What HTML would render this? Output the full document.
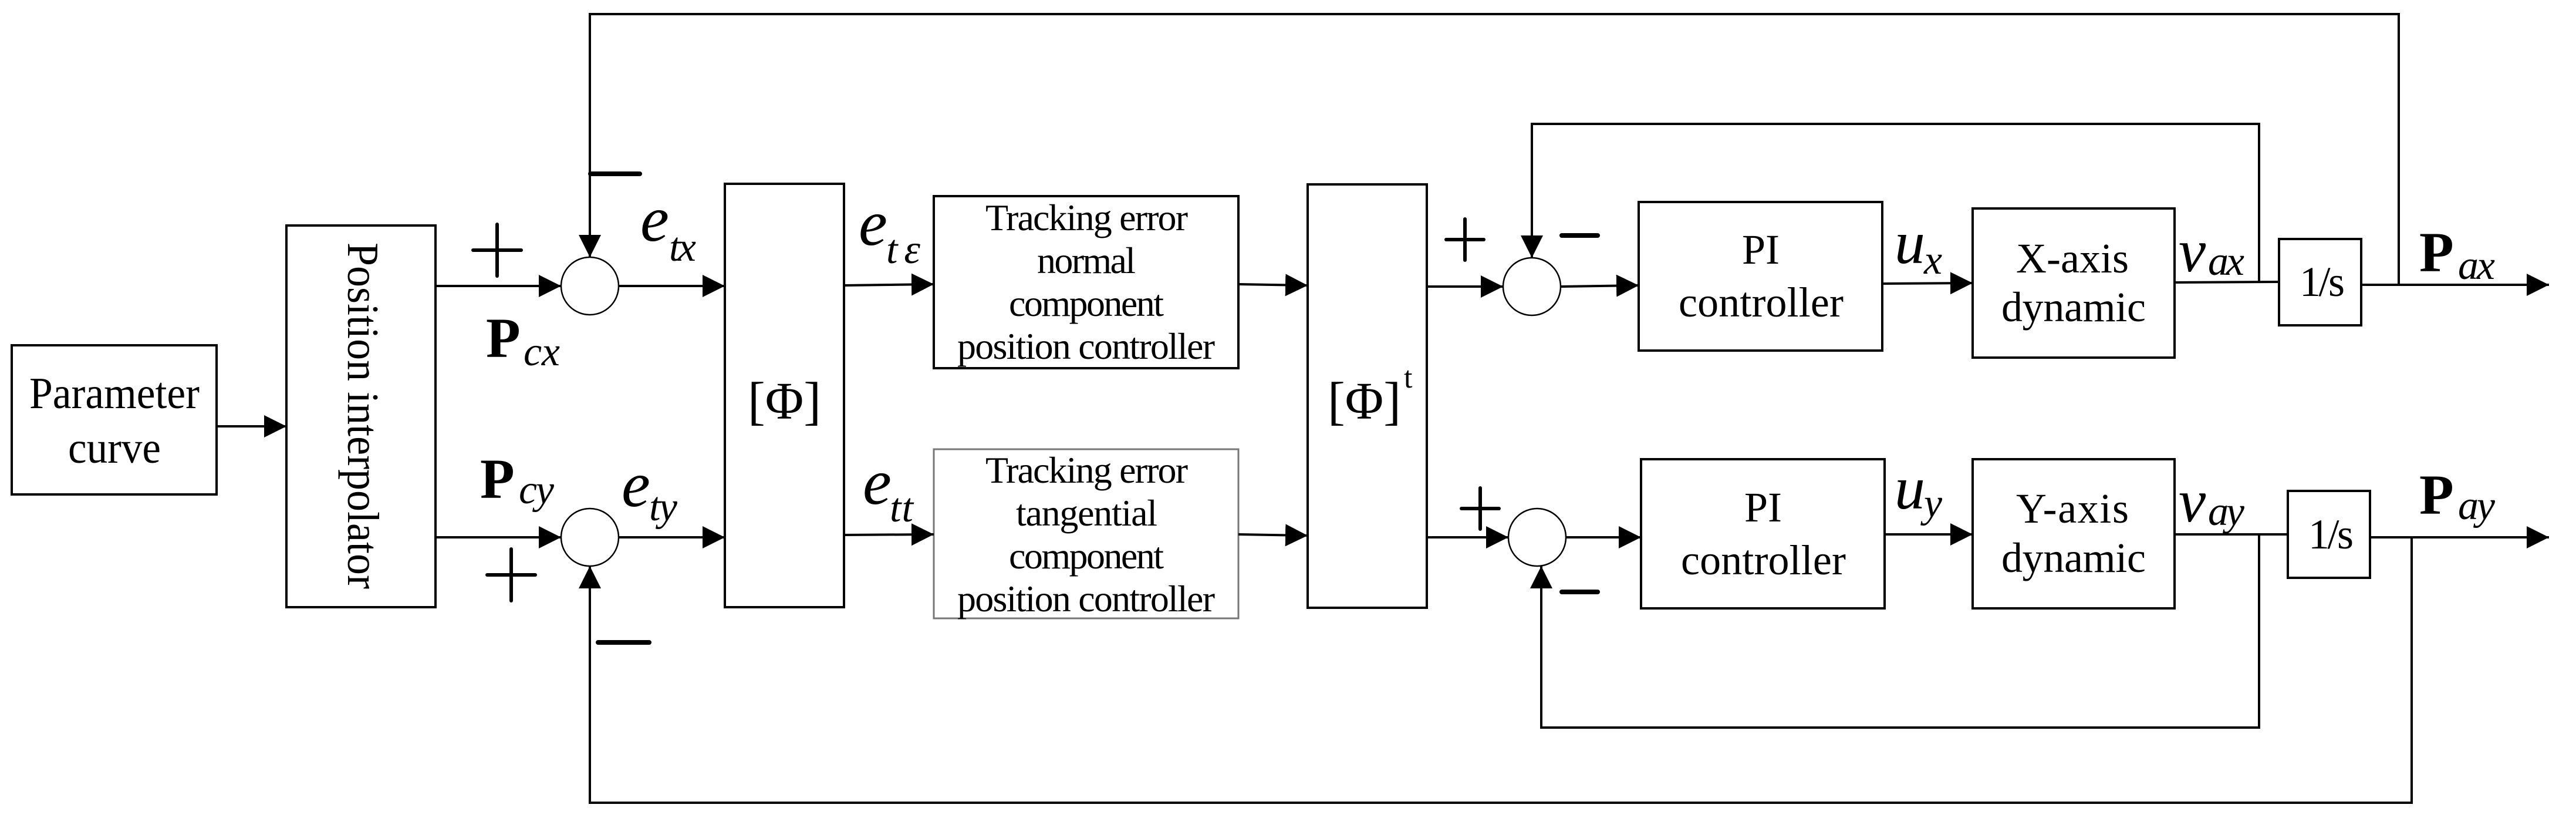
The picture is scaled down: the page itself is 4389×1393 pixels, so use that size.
<!DOCTYPE html>
<html><head><meta charset="utf-8"><style>html,body{margin:0;padding:0;background:#fff}svg{display:block}</style></head>
<body>
<svg width="4389" height="1393" viewBox="0 0 4389 1393" xmlns="http://www.w3.org/2000/svg">
<defs>
<marker id="a" markerWidth="40" markerHeight="40" refX="38" refY="19" orient="auto" markerUnits="userSpaceOnUse">
<path d="M0,0 L38,19 L0,38 Z" fill="#000"/>
</marker>
</defs>
<g fill="none" stroke="#000" stroke-width="4">
<rect x="20" y="588" width="349" height="254"/>
<rect x="488" y="384" width="254" height="650"/>
<rect x="1235" y="313" width="203" height="721"/>
<rect x="1591" y="334" width="519" height="293"/>
<rect x="1591" y="765" width="519" height="288" stroke="#777" stroke-width="3"/>
<rect x="2228" y="314" width="203" height="721"/>
<rect x="2792" y="344" width="415" height="253"/>
<rect x="2796" y="782" width="415" height="254"/>
<rect x="3361" y="355" width="344" height="254"/>
<rect x="3361" y="782" width="344" height="254"/>
<rect x="3883" y="407" width="140" height="147"/>
<rect x="3898" y="836" width="140" height="148"/>
<circle cx="1005" cy="487" r="49" stroke-width="2.5"/>
<circle cx="1005" cy="915" r="49" stroke-width="2.5"/>
<circle cx="2610" cy="488" r="49" stroke-width="2.5"/>
<circle cx="2619" cy="915" r="49" stroke-width="2.5"/>
<line x1="369" y1="726" x2="488" y2="726" marker-end="url(#a)"/>
<line x1="742" y1="487" x2="956" y2="487" marker-end="url(#a)"/>
<line x1="742" y1="915" x2="956" y2="915" marker-end="url(#a)"/>
<line x1="1054" y1="487" x2="1235" y2="487" marker-end="url(#a)"/>
<line x1="1054" y1="915" x2="1235" y2="915" marker-end="url(#a)"/>
<line x1="1438" y1="486" x2="1591" y2="484" marker-end="url(#a)"/>
<line x1="1438" y1="911" x2="1591" y2="910" marker-end="url(#a)"/>
<line x1="2110" y1="484" x2="2228" y2="486" marker-end="url(#a)"/>
<line x1="2110" y1="910" x2="2228" y2="912" marker-end="url(#a)"/>
<line x1="2431" y1="488" x2="2561" y2="488" marker-end="url(#a)"/>
<line x1="2431" y1="915" x2="2570" y2="915" marker-end="url(#a)"/>
<line x1="2659" y1="488" x2="2792" y2="486" marker-end="url(#a)"/>
<line x1="2668" y1="915" x2="2796" y2="915" marker-end="url(#a)"/>
<line x1="3207" y1="483" x2="3361" y2="482" marker-end="url(#a)"/>
<line x1="3211" y1="910" x2="3361" y2="910" marker-end="url(#a)"/>
<line x1="3705" y1="481" x2="3883" y2="480"/>
<line x1="3705" y1="910" x2="3898" y2="910"/>
<line x1="4023" y1="485" x2="4343" y2="485" marker-end="url(#a)"/>
<line x1="4038" y1="915" x2="4343" y2="915" marker-end="url(#a)"/>
<polyline points="4087,485 4087,24 1005,24 1005,438" marker-end="url(#a)"/>
<polyline points="4109,915 4109,1367 1005,1367 1005,964" marker-end="url(#a)"/>
<polyline points="3849,481 3849,211 2610,211 2610,439" marker-end="url(#a)"/>
<polyline points="3849,910 3849,1239 2626,1239 2626,964" marker-end="url(#a)"/>
</g>
<g stroke="#000" stroke-linecap="round" fill="none">
<g stroke-width="6">
<line x1="806" y1="426" x2="888" y2="426"/><line x1="847" y1="382" x2="847" y2="470"/>
<line x1="830" y1="979" x2="912" y2="979"/><line x1="871" y1="935" x2="871" y2="1023"/>
<line x1="2464" y1="408" x2="2528" y2="408"/><line x1="2496" y1="373" x2="2496" y2="443"/>
<line x1="2490" y1="866" x2="2554" y2="866"/><line x1="2522" y1="831" x2="2522" y2="901"/>
</g>
<g stroke-width="8">
<line x1="1006" y1="296" x2="1090" y2="296"/>
<line x1="1019" y1="1094" x2="1106" y2="1094"/>
<line x1="2661" y1="401" x2="2722" y2="401"/>
<line x1="2661" y1="1008" x2="2722" y2="1008"/>
</g>
</g>
<g style="font-family:'Liberation Serif',serif" fill="#000">
<text x="50" y="695" font-size="76" textLength="290" lengthAdjust="spacingAndGlyphs">Parameter</text>
<text x="116" y="788" font-size="76" textLength="158" lengthAdjust="spacingAndGlyphs">curve</text>
<text transform="translate(593,413) rotate(90)" font-size="76" textLength="590" lengthAdjust="spacingAndGlyphs">Position interpolator</text>
<text x="1274" y="713" font-size="90" textLength="125" lengthAdjust="spacingAndGlyphs">[Φ]</text>
<text x="2262" y="713" font-size="90" textLength="125" lengthAdjust="spacingAndGlyphs">[Φ]</text>
<text x="2392" y="660" font-size="52">t</text>
<g font-size="64" lengthAdjust="spacingAndGlyphs">
<text x="1679" y="392" textLength="345">Tracking error</text>
<text x="1767" y="465" textLength="168">normal</text>
<text x="1719" y="538" textLength="264">component</text>
<text x="1631" y="611" textLength="439">position controller</text>
<text x="1679" y="822" textLength="345">Tracking error</text>
<text x="1731" y="895" textLength="241">tangential</text>
<text x="1719" y="968" textLength="264">component</text>
<text x="1631" y="1041" textLength="439">position controller</text>
</g>
<g font-size="72" lengthAdjust="spacingAndGlyphs">
<text x="2968" y="449" textLength="64">PI</text>
<text x="2860" y="539" textLength="281">controller</text>
<text x="2972" y="888" textLength="64">PI</text>
<text x="2864" y="978" textLength="281">controller</text>
<text x="3435" y="464" textLength="192">X-axis</text>
<text x="3410" y="547" textLength="246">dynamic</text>
<text x="3435" y="890" textLength="192">Y-axis</text>
<text x="3410" y="974" textLength="246">dynamic</text>
<text x="3918" y="504" textLength="77">1/s</text>
<text x="3933" y="934" textLength="77">1/s</text>
</g>
<g font-style="italic" lengthAdjust="spacingAndGlyphs">
<text x="1091" y="410" font-size="110" textLength="50">e</text>
<text x="1140" y="444" font-size="70" textLength="46">tx</text>
<text x="1059" y="862" font-size="110" textLength="50">e</text>
<text x="1106" y="886" font-size="70" textLength="48">ty</text>
<text x="1463" y="417" font-size="110" textLength="50">e</text>
<text x="1510" y="448" font-size="70" textLength="58">tε</text>
<text x="1470" y="858" font-size="110" textLength="50">e</text>
<text x="1516" y="888" font-size="70" textLength="40">tt</text>
<text x="3228" y="448" font-size="104" textLength="50">u</text>
<text x="3278" y="466" font-size="70" textLength="34">x</text>
<text x="3228" y="866" font-size="104" textLength="50">u</text>
<text x="3278" y="880" font-size="70" textLength="34">y</text>
<text x="3712" y="462" font-size="104" textLength="50">v</text>
<text x="3762" y="468" font-size="70" textLength="62">ax</text>
<text x="3712" y="888" font-size="104" textLength="50">v</text>
<text x="3762" y="894" font-size="70" textLength="62">ay</text>
<text x="892" y="622" font-size="70" textLength="62">cx</text>
<text x="884" y="857" font-size="70" textLength="60">cy</text>
<text x="4188" y="475" font-size="70" textLength="63">ax</text>
<text x="4188" y="884" font-size="70" textLength="63">ay</text>
</g>
<g font-weight="bold" font-size="96" lengthAdjust="spacingAndGlyphs">
<text x="828" y="608" textLength="58">P</text>
<text x="818" y="848" textLength="58">P</text>
<text x="4122" y="462" textLength="60">P</text>
<text x="4122" y="875" textLength="60">P</text>
</g>
</g>
</svg>
</body></html>
